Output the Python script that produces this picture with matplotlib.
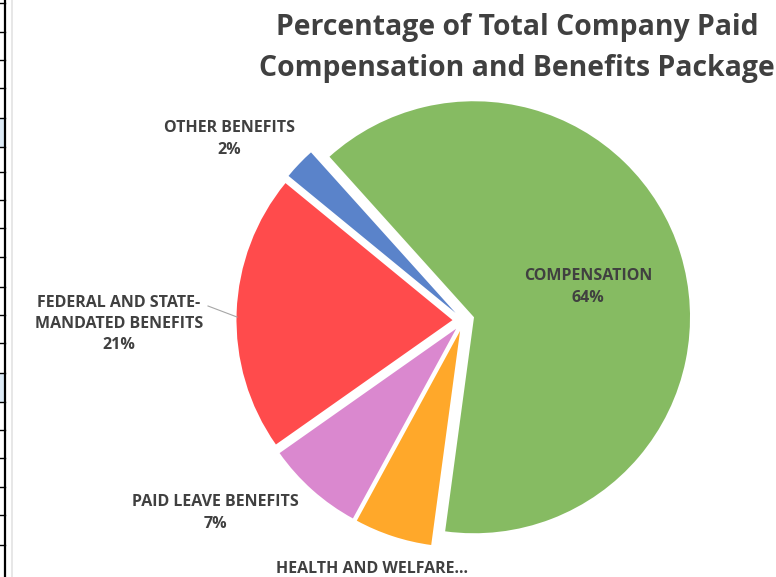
import matplotlib.pyplot as plt
from matplotlib.lines import Line2D
from matplotlib.patches import Rectangle

# data
categories = ['COMPENSATION', 'HEALTH AND WELFARE...', 'PAID LEAVE BENEFITS',
              'FEDERAL AND STATE-\nMANDATED BENEFITS', 'OTHER BENEFITS']
shares = [63.8, 5.8, 7.3, 20.7, 2.4]
colors = ['#86BB62', '#FFA82A', '#DA88CF', '#FF4B4C', '#5A83CA']

W, H = 776, 577
fig = plt.figure(figsize=(W / 100, H / 100), dpi=100)
ax = fig.add_axes([0, 0, 1, 1])

def iy(y):
    # picture rows -> axis y
    return H - y

ax.pie(shares, colors=colors, startangle=132, counterclock=False,
       center=(463.5, iy(320.5)), radius=216, explode=[11] * len(shares),
       wedgeprops=dict(linewidth=0), frame=True)
ax.set_xlim(0, W)
ax.set_ylim(0, H)
ax.set_aspect('equal')
ax.axis('off')

ax.text(517, iy(48), 'Percentage of Total Company Paid\nCompensation and Benefits Package',
        ha='center', va='center', fontsize=20.4, fontweight='bold', color='#404040',
        family='Open Sans', linespacing=1.58)

lab = dict(ha='center', va='center', fontsize=11.5, fontweight='bold',
           color='#404040', family='Open Sans', linespacing=1.45)
pct = [f'{round(v)}%' for v in shares]
ax.text(588, iy(287), categories[0] + '\n' + pct[0], **lab)
# the health label is cut by the bottom edge in the source, only its first line shows
ax.text(372, iy(569), categories[1], **lab)
ax.text(215, iy(513), categories[2] + '\n' + pct[2], **lab)
ax.text(119, iy(324), categories[3] + '\n' + pct[3], **lab)
ax.text(229, iy(139), categories[4] + '\n' + pct[4], **lab)
ax.plot([208, 237], [iy(306), iy(317)], color='#A6A6A6', lw=0.8)

# sheet edge at the left of the screenshot
fig.add_artist(Rectangle((0, iy(147) / H), 4 / W, 29 / H, transform=fig.transFigure,
                         color='#DDEBF7', lw=0))
fig.add_artist(Rectangle((0, iy(402) / H), 4 / W, 29 / H, transform=fig.transFigure,
                         color='#DDEBF7', lw=0))
fig.add_artist(Line2D([5 / W, 5 / W], [0, 1], color='black', lw=1.6))
fig.add_artist(Line2D([12.5 / W, 12.5 / W], [0, 1], color='#E3E3E3', lw=1.2))
for y in [3, 32, 60, 88, 118, 147, 172, 200, 228, 257, 287, 315, 343, 373, 402, 430, 458, 487, 515, 545]:
    fig.add_artist(Line2D([0, 5 / W], [iy(y) / H, iy(y) / H], color='black', lw=1))

fig.savefig('out.png', dpi=100)
